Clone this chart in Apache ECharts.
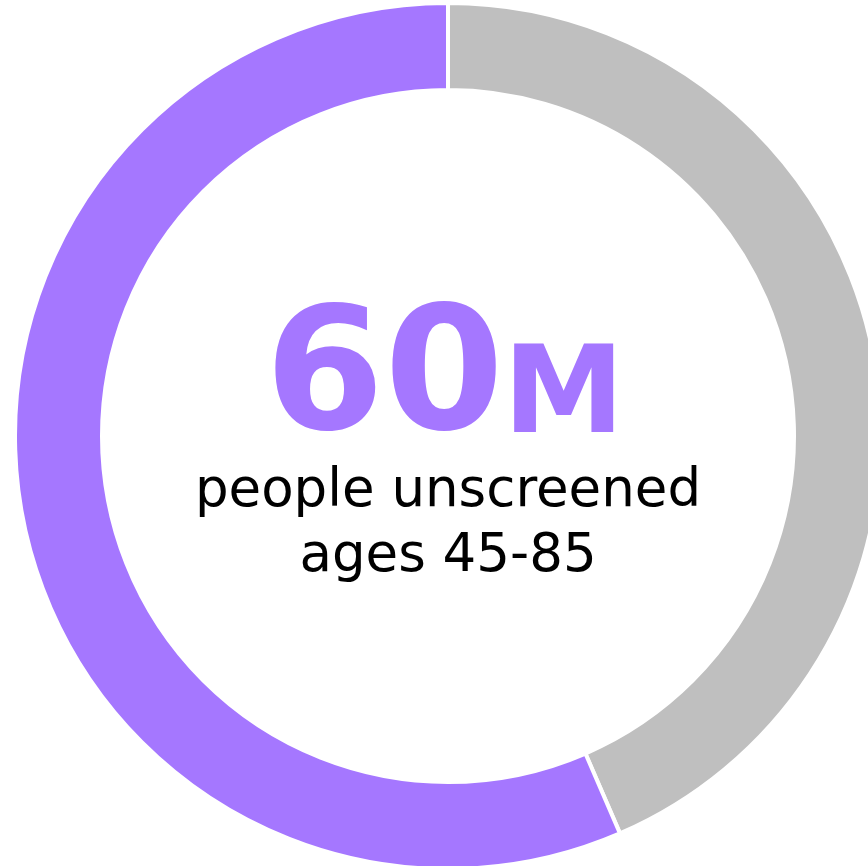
<!DOCTYPE html>
<html>
<head>
<meta charset="utf-8">
<script src="https://cdn.jsdelivr.net/npm/echarts@6/dist/echarts.min.js"></script>
<style>
  html, body { margin: 0; padding: 0; background: #fff; }
  #chart { width: 868px; height: 866px; }
</style>
</head>
<body>
<div id="chart"></div>
<script>
// Données (part de l'anneau, en %)
const categories = ['Screened', 'Unscreened'];
const shares = [43.5, 56.5];
const colors = ['#bfbfbf', '#a577ff'];

// Texte central
const bigNumber = '60';
const bigUnit = 'M';
const captionLines = ['people unscreened', 'ages 45-85'];

var chartDom = document.getElementById('chart');
var myChart = echarts.init(chartDom);

var data = categories.map(function (name, i) {
    return { name: name, value: shares[i], itemStyle: { color: colors[i] } };
});

var option = {
    animation: false,
    series: [
        {
            type: 'pie',
            center: [448, 436],
            radius: [346, 433],
            startAngle: 90,
            clockwise: true,
            silent: true,
            label: { show: false },
            labelLine: { show: false },
            itemStyle: { borderColor: '#fff', borderWidth: 4 },
            data: data
        }
    ],
    graphic: [
        {
            type: 'text',
            x: 504, y: 384,
            style: {
                text: bigNumber,
                fill: '#a577ff',
                font: 'bold 172px "DejaVu Sans"',
                align: 'right',
                verticalAlign: 'middle'
            }
        },
        {
            type: 'text',
            x: 503, y: 400,
            style: {
                text: bigUnit,
                fill: '#a577ff',
                font: 'bold 122px "DejaVu Sans"',
                align: 'left',
                verticalAlign: 'middle'
            }
        },
        {
            type: 'text',
            x: 448, y: 492,
            style: {
                text: captionLines[0],
                fill: '#000',
                font: '53px "DejaVu Sans"',
                align: 'center',
                verticalAlign: 'middle'
            }
        },
        {
            type: 'text',
            x: 448, y: 557,
            style: {
                text: captionLines[1],
                fill: '#000',
                font: '53px "DejaVu Sans"',
                align: 'center',
                verticalAlign: 'middle'
            }
        }
    ]
};

myChart.setOption(option);
</script>
</body>
</html>
